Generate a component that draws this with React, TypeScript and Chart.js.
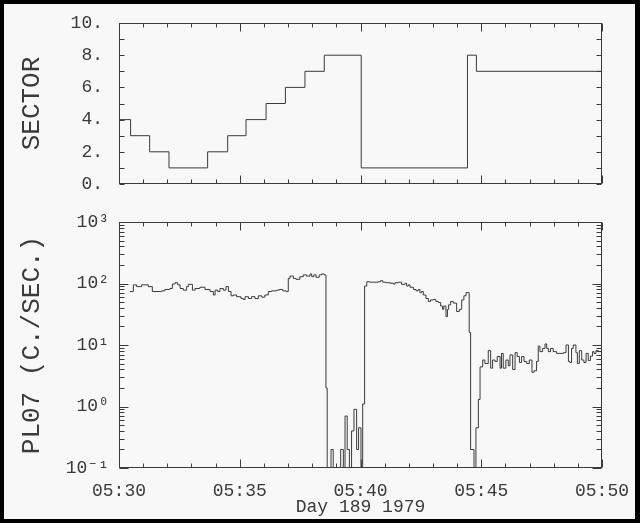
import React, { useEffect, useRef } from 'react';
import { Chart, registerables } from 'chart.js';

Chart.register(...registerables);

// minutes after 05:30, Day 189 1979
const sectorTimes = [0, 0.48, 1.27, 2.07, 3.67, 4.5, 5.26, 6.09, 6.89, 7.7, 8.5, 10.03, 14.43, 14.8, 20];
const sectorValues = [4, 3, 2, 1, 2, 3, 4, 5, 6, 7, 8, 1, 8, 7, 7];

const rateTimes = [
  0.455, 0.593, 0.73, 0.94, 1.21, 1.38, 1.77, 1.9, 2.11, 2.21, 2.32, 2.43, 2.53, 2.66, 2.8, 2.87,
  3.04, 3.15, 3.35, 3.56, 3.77, 3.91, 3.98, 4.09, 4.18, 4.32, 4.43, 4.53, 4.64, 4.73, 4.87, 5.05,
  5.15, 5.22, 5.36, 5.49, 5.63, 5.77, 5.91, 6.04, 6.18, 6.32, 6.53, 6.64, 6.78, 6.92, 7.01, 7.08,
  7.22, 7.33, 7.49, 7.63, 7.77, 7.91, 7.98, 8.07, 8.16, 8.29, 8.39, 8.49, 8.57, 8.62, 8.78, 8.87,
  9.18, 9.29, 9.36, 9.45, 9.54, 9.63, 9.73, 9.84, 9.92, 10.02, 10.09, 10.17, 10.26, 10.37, 10.74, 10.83,
  10.92, 11.05, 11.22, 11.36, 11.43, 11.57, 11.7, 11.84, 11.91, 11.98, 12.05, 12.19, 12.3, 12.39, 12.46, 12.53,
  12.6, 12.71, 12.81, 12.9, 13.01, 13.12, 13.22, 13.32, 13.4, 13.45, 13.54, 13.6, 13.65, 13.73, 13.84, 13.98,
  14.09, 14.19, 14.28, 14.37, 14.5, 14.56, 14.7, 14.78, 14.88, 14.95, 15.06, 15.15, 15.29, 15.39, 15.47, 15.57,
  15.66, 15.78, 15.84, 15.91, 16.02, 16.12, 16.19, 16.3, 16.4, 16.49, 16.58, 16.67, 16.77, 16.88, 16.99, 17.1,
  17.18, 17.29, 17.36, 17.43, 17.54, 17.64, 17.71, 17.78, 17.87, 17.98, 18.12, 18.26, 18.4, 18.51, 18.61, 18.67,
  18.74, 18.81, 18.92, 18.98, 19.06, 19.16, 19.25, 19.34, 19.43, 19.52, 19.61, 19.67, 19.75, 19.85, 20,
];
// counts per second; 0.01 marks an empty interval (below the axis)
const rateValues = [
  74, 95, 89, 95, 89, 74, 76, 80, 83, 98, 103, 95, 83, 78, 89, 97,
  78, 83, 87, 80, 74, 65, 78, 74, 83, 78, 89, 74, 63, 65, 61, 57,
  55, 61, 57, 61, 57, 63, 60, 65, 74, 76, 78, 80, 76, 74, 121, 132,
  121, 117, 129, 138, 132, 143, 129, 138, 126, 138, 143, 138, 2, 0.01, 0.2, 0.01,
  0.2, 0.01, 0.7, 0.2, 0.01, 0.4, 0.9, 0.2, 0.45, 0.01, 1.1, 91, 107, 105, 107, 111,
  105, 103, 101, 98, 103, 105, 97, 101, 91, 95, 87, 80, 76, 80, 71, 74,
  65, 57, 51, 54, 55, 51, 49, 43, 38, 43, 29, 38, 45, 51, 48, 35,
  38, 54, 63, 71, 16, 0.2, 0.01, 0.45, 1.3, 4.4, 5.7, 5.0, 8.1, 4.2, 5.7, 5.4,
  6.5, 4.2, 7.3, 4.2, 5.7, 4.6, 6.9, 4.0, 7.5, 6.5, 5.2, 6.5, 5.4, 5.0, 5.7, 3.6,
  3.8, 5.4, 9.6, 7.8, 8.8, 10.4, 8.8, 7.8, 8.8, 7.8, 7.3, 7.3, 7.5, 10.0, 5.4, 5.2,
  8.8, 10.0, 7.5, 5.0, 8.1, 5.7, 5.2, 7.3, 5.6, 6.6, 7.8, 7.3, 8.1, 7.8, 7.8,
];

const timeTickLabels = ['05:30', '05:35', '05:40', '05:45', '05:50'];
const sectorTickLabels = ['0.', '2.', '4.', '6.', '8.', '10.'];
const rateTickLabels = ['10\u207B\u00B9', '10\u2070', '10\u00B9', '10\u00B2', '10\u00B3'];

const FONT = '"Liberation Mono", "DejaVu Sans Mono", monospace';
const INK = '#3a3a3a';

const frameTicks = {
  id: 'frameTicks',
  afterDatasetsDraw(chart: any, _args: any, opts: any) {
    const { ctx, chartArea: a, scales } = chart;
    const xs = scales.x;
    const ys = scales.y;
    ctx.save();
    ctx.strokeStyle = INK;
    ctx.lineWidth = 1;
    const L = Math.round(a.left) + 0.5;
    const R = Math.round(a.right) - 0.5;
    const T = Math.round(a.top) + 0.5;
    const B = Math.round(a.bottom) - 0.5;
    ctx.strokeRect(L, T, R - L, B - T);
    ctx.beginPath();
    for (let m = 0; m <= 20; m++) {
      const px = Math.round(xs.getPixelForValue(m)) + 0.5;
      const len = m % 5 === 0 ? opts.xMajor : opts.xMinor;
      ctx.moveTo(px, B);
      ctx.lineTo(px, B - len);
      ctx.moveTo(px, T);
      ctx.lineTo(px, T + len);
    }
    for (const t of opts.yTicks) {
      const py = Math.round(ys.getPixelForValue(t.v)) + 0.5;
      ctx.moveTo(L, py);
      ctx.lineTo(L + t.len, py);
      ctx.moveTo(R, py);
      ctx.lineTo(R - t.len, py);
    }
    ctx.stroke();
    ctx.restore();
  },
};

function sectorYTicks() {
  const out: { v: number; len: number }[] = [];
  for (let v = 0; v <= 10; v++) out.push({ v, len: 5 });
  return out;
}

function rateYTicks() {
  const out: { v: number; len: number }[] = [];
  for (let d = -1; d <= 2; d++) {
    for (let k = 1; k <= 9; k++) out.push({ v: k * Math.pow(10, d), len: k === 1 ? 9 : 5 });
  }
  out.push({ v: 1000, len: 9 });
  return out;
}

export default function App() {
  const topRef = useRef<HTMLCanvasElement | null>(null);
  const botRef = useRef<HTMLCanvasElement | null>(null);

  useEffect(() => {
    const sectorData = sectorTimes.map((t, i) => ({ x: t, y: sectorValues[i] }));
    const rateData = rateTimes.map((t, i) => ({ x: t, y: rateValues[i] }));

    const top = new Chart(topRef.current as HTMLCanvasElement, {
      type: 'line',
      data: {
        datasets: [
          {
            data: sectorData,
            stepped: 'before',
            borderColor: INK,
            borderWidth: 1,
            pointRadius: 0,
            fill: false,
          },
        ],
      },
      options: {
        animation: false,
        responsive: false,
        maintainAspectRatio: false,
        layout: { padding: { left: 0, right: 38, top: 23, bottom: 16 } },
        plugins: {
          legend: { display: false },
          tooltip: { enabled: false },
          frameTicks: { xMajor: 8, xMinor: 4, yTicks: sectorYTicks() },
        } as any,
        scales: {
          x: {
            type: 'linear',
            display: false,
            min: 0,
            max: 20,
          },
          y: {
            type: 'linear',
            min: 0,
            max: 10,
            grid: { display: false, drawTicks: true, tickLength: 16 },
            border: { display: false },
            ticks: {
              stepSize: 2,
              padding: 0,
              color: INK,
              font: { family: FONT, size: 18 },
              callback: (v: any) => sectorTickLabels[Math.round(Number(v) / 2)],
            },
            title: {
              display: true,
              text: 'SECTOR',
              color: INK,
              font: { family: FONT, size: 26 },
              padding: { top: 17, bottom: 0 },
            },
            afterFit: (s: any) => {
              s.width = 119;
            },
          },
        },
      },
      plugins: [frameTicks as any],
    });

    const bot = new Chart(botRef.current as HTMLCanvasElement, {
      type: 'line',
      data: {
        datasets: [
          {
            data: rateData,
            stepped: 'before',
            borderColor: INK,
            borderWidth: 1,
            pointRadius: 0,
            fill: false,
          },
        ],
      },
      options: {
        animation: false,
        responsive: false,
        maintainAspectRatio: false,
        layout: { padding: { left: 0, right: 38, top: 22, bottom: 0 } },
        plugins: {
          legend: { display: false },
          tooltip: { enabled: false },
          frameTicks: { xMajor: 8, xMinor: 4, yTicks: rateYTicks() },
        } as any,
        scales: {
          x: {
            type: 'linear',
            min: 0,
            max: 20,
            grid: { display: false, drawTicks: true, tickLength: 12 },
            border: { display: false },
            ticks: {
              stepSize: 5,
              autoSkip: false,
              maxRotation: 0,
              padding: 0,
              color: INK,
              font: { family: FONT, size: 18 },
              callback: (v: any) => timeTickLabels[Math.round(Number(v) / 5)],
            },
            title: {
              display: true,
              text: 'Day 189 1979',
              color: INK,
              font: { family: FONT, size: 18 },
              padding: { top: 0, bottom: 5 },
            },
            afterFit: (s: any) => {
              s.height = 55;
            },
          },
          y: {
            type: 'logarithmic',
            min: 0.1,
            max: 1000,
            grid: { display: false, drawTicks: true, tickLength: 10 },
            border: { display: false },
            ticks: {
              autoSkip: false,
              padding: 0,
              color: INK,
              font: { family: FONT, size: 18 },
              callback: (v: any) => {
                const lg = Math.log10(Number(v));
                const e = Math.round(lg);
                if (Math.abs(lg - e) > 1e-6) return null;
                return rateTickLabels[e + 1];
              },
            },
            title: {
              display: true,
              text: 'PL07 (C./SEC.)',
              color: INK,
              font: { family: FONT, size: 26 },
              padding: { top: 17, bottom: 0 },
            },
            afterFit: (s: any) => {
              s.width = 119;
            },
          },
        },
      },
      plugins: [frameTicks as any],
    });

    return () => {
      top.destroy();
      bot.destroy();
    };
  }, []);

  return (
    <div
      style={{
        position: 'fixed',
        left: 0,
        top: 0,
        width: 640,
        height: 523,
        background: '#000',
      }}
    >
      <div
        style={{
          position: 'absolute',
          left: 4,
          top: 4,
          right: 5,
          bottom: 4,
          background: '#f8f8f8',
        }}
      />
      <canvas
        ref={topRef}
        width={640}
        height={200}
        style={{ position: 'absolute', left: 0, top: 0, width: 640, height: 200 }}
      />
      <canvas
        ref={botRef}
        width={640}
        height={323}
        style={{ position: 'absolute', left: 0, top: 200, width: 640, height: 323 }}
      />
    </div>
  );
}
